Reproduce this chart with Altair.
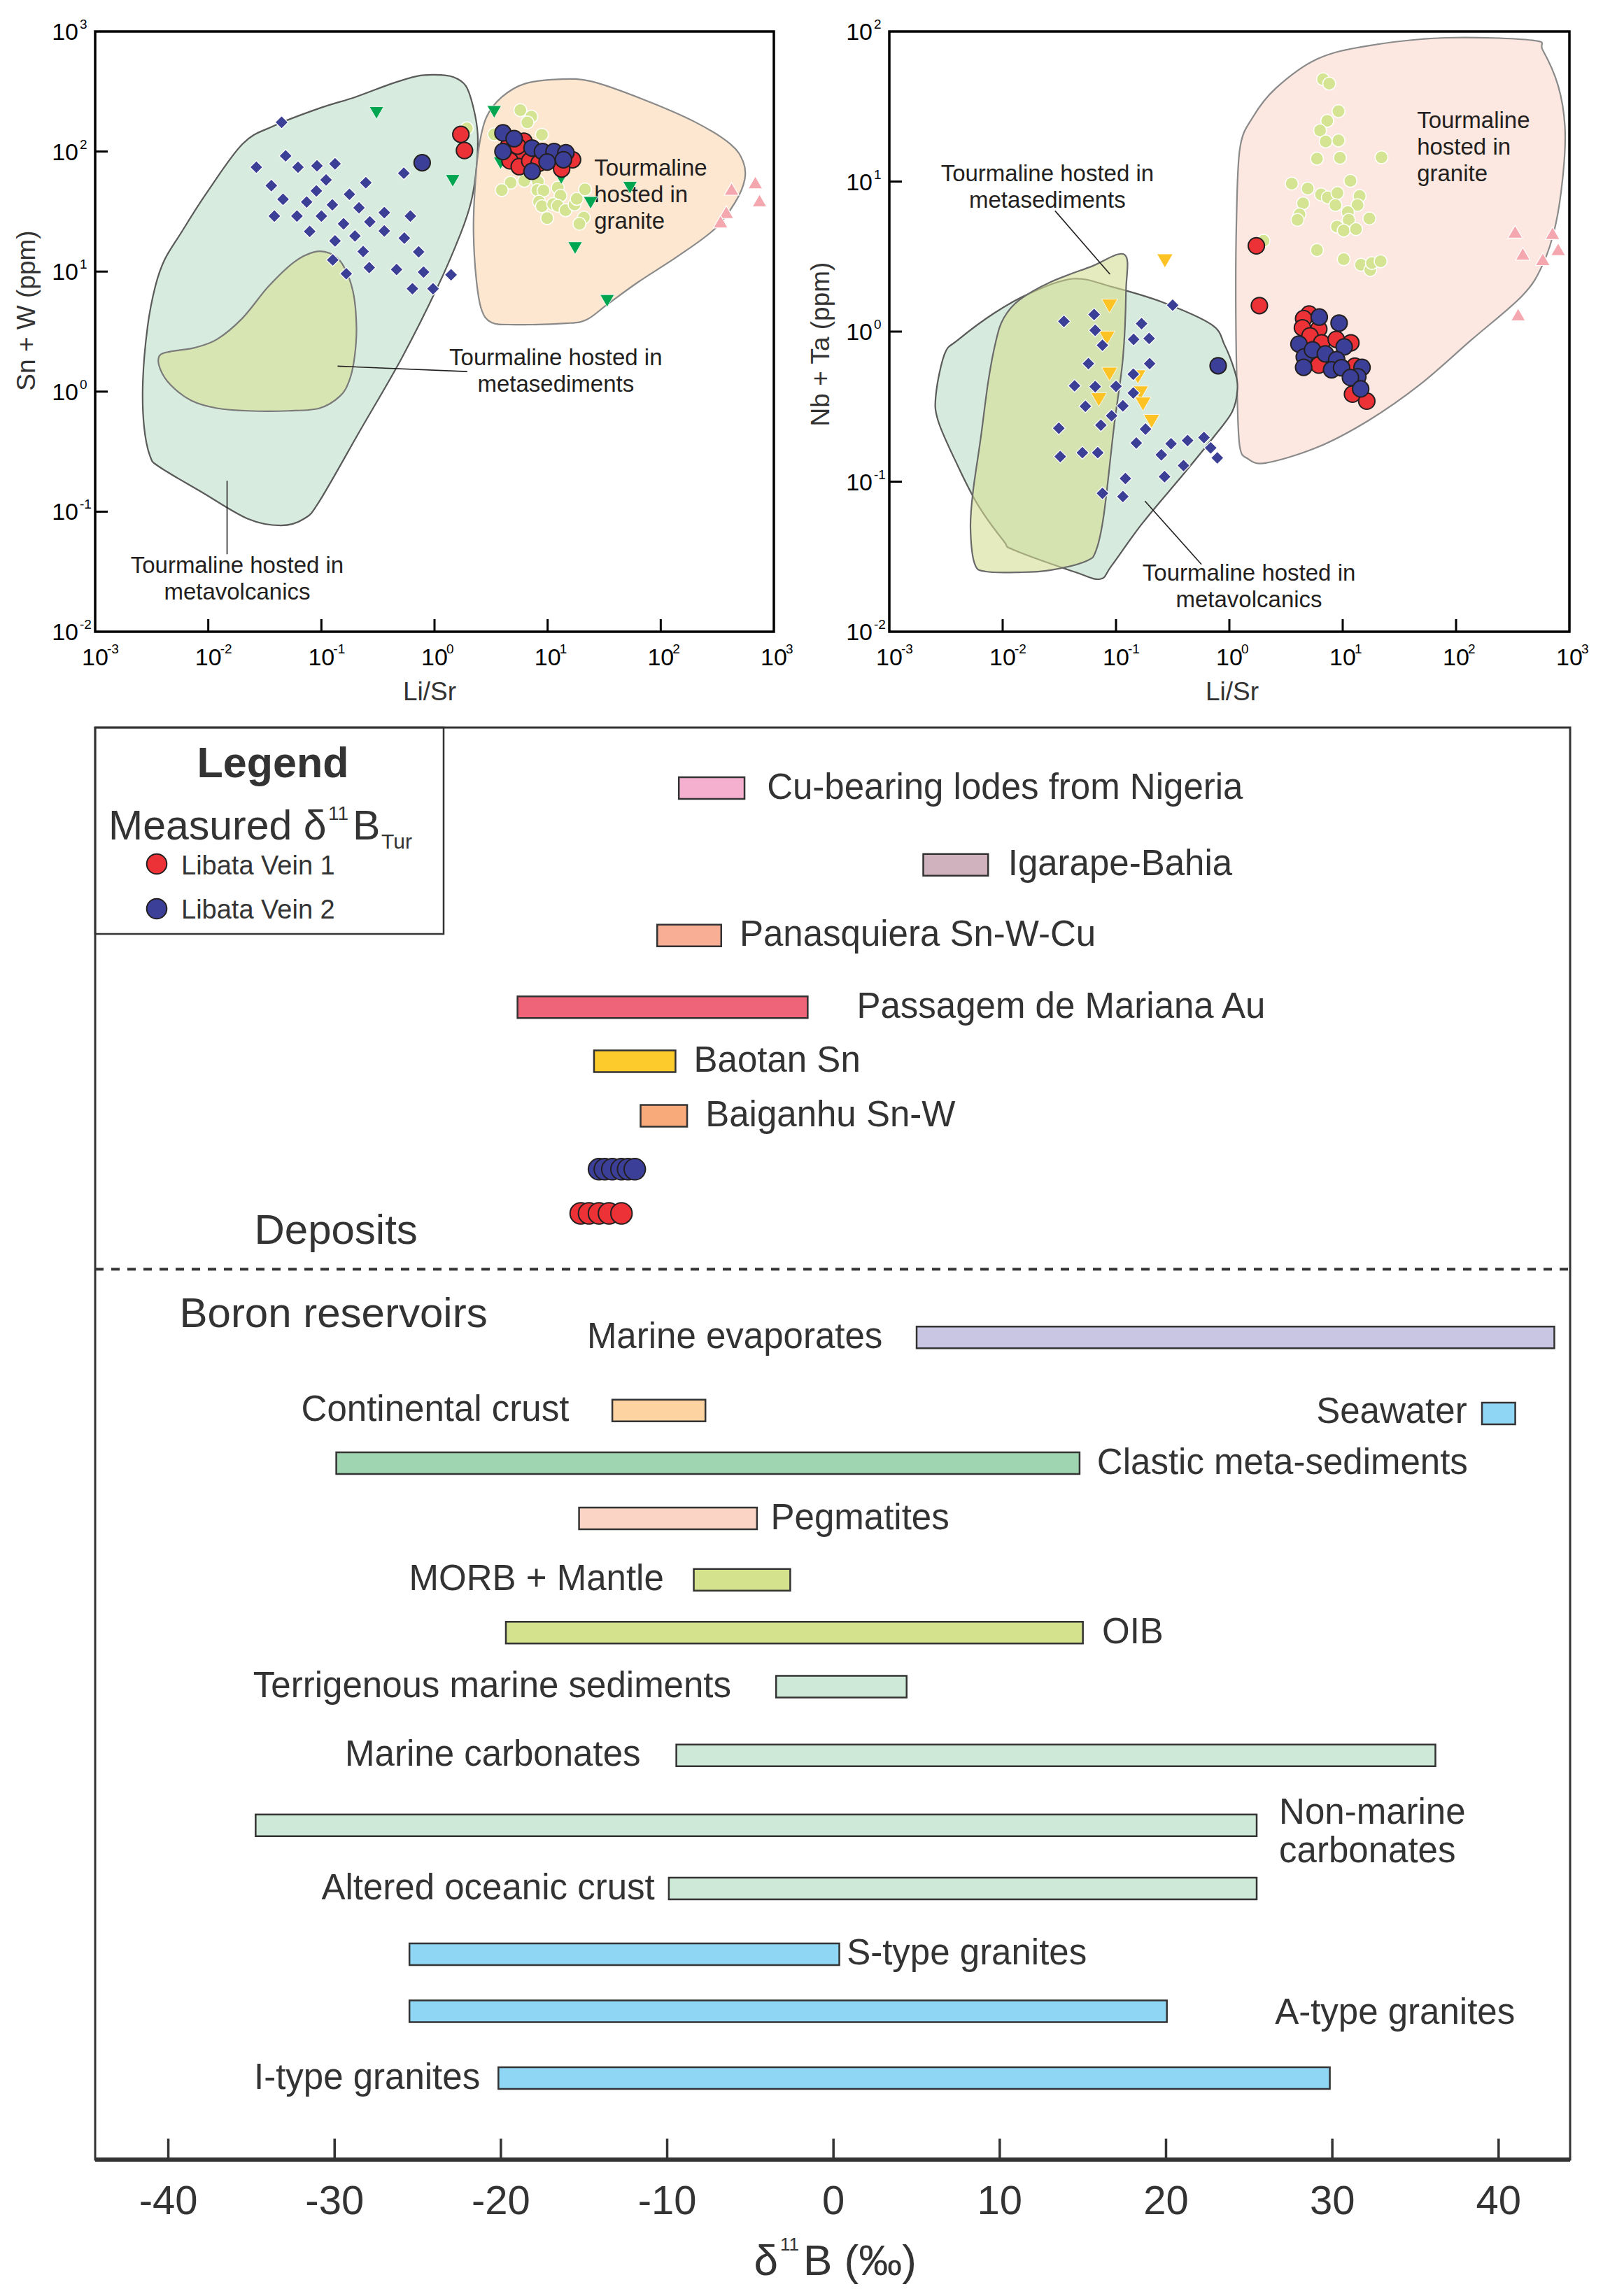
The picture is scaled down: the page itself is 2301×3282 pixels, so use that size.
import altair as alt
import pandas as pd

FONT = "Liberation Sans"
INK = "#231f20"
DARK = "#333333"

# ================= (a) Sn+W vs Li/Sr =================
a_volc_lisr = [0.0445, 0.0266, 0.0483, 0.0621, 0.0914, 0.132, 0.0361, 0.110, 0.247, 0.535,
               0.0458, 0.0903, 0.177, 0.0384, 0.0608, 0.0741, 0.100, 0.125, 0.215, 0.360,
               0.612, 0.0788, 0.157, 0.268, 0.360, 0.132, 0.198, 0.541, 0.234, 0.724,
               0.126, 0.166, 0.265, 0.462, 0.80, 1.40, 0.638, 0.97]
a_volc_snw = [175, 74, 92, 74, 76, 79, 52, 58, 55, 66, 40, 47, 44, 29, 29, 38, 29, 36, 34, 31,
              29, 21.6, 25, 26, 21.8, 18, 19.8, 19, 14.7, 14.6, 12.5, 9.6, 10.8, 10.4, 9.9, 9.4, 7.2, 7.2]
a_tri_lisr = [0.307, 3.37, 1.45, 53.5, 24, 17.5, 33.6, 3.84, 13.2]
a_tri_snw = [210, 214, 57, 50, 37.4, 15.7, 5.7, 80, 60]
a_gra_lisr = [1.93, 5.74, 7.18, 6.62, 8.9, 3.37, 4.71, 3.93, 6.22, 8.2, 8.1, 9.2, 12.3, 13.0,
              8.4, 8.9, 11.2, 12.3, 14.4, 17.3, 18.1, 21.4, 9.9, 20.9, 19.1]
a_gra_snw = [156, 221, 195, 175, 138, 139, 55, 47.7, 57, 56, 47.7, 47.3, 50, 42.8,
             38.2, 35, 36.5, 35.3, 32.4, 36.2, 40.3, 48.4, 27.9, 28.2, 25]
a_pink_lisr = [423, 686, 747, 380, 338]
a_pink_snw = [48.9, 55.2, 39.1, 31.3, 26.1]
a_v1_lisr = [1.71, 1.84, 6.17, 4.53, 5.74, 4.65, 5.61, 6.95, 8.4, 16.6, 13.3, 5.43]
a_v1_snw = [139, 102, 122, 112, 95.7, 83.6, 74.8, 83.6, 80, 85.5, 71.5, 111]
a_v2_lisr = [0.778, 4.03, 5.06, 4.03, 7.28, 9.0, 11.4, 14.5, 9.9, 7.28, 13.8]
a_v2_snw = [80.7, 143, 128, 100, 107, 100, 100, 97.7, 81.8, 68.4, 85.5]

# field outlines, log10 exponents (Li/Sr, Sn+W)
a_fvolc_lx = [0.005, 0.164, 0.277, 0.345, 0.382, 0.368, 0.323, 0.232, 0.028, -0.290, -0.653, -1.016,
              -1.153, -1.357, -1.652, -2.060, -2.424, -2.514, -2.569, -2.578, -2.537, -2.469, -2.387,
              -2.242, -2.015, -1.697, -1.425, -1.016, -0.699, -0.381, -0.154]
a_fvolc_ly = [2.639, 2.621, 2.546, 2.361, 2.138, 1.840, 1.580, 1.320, 0.874, 0.279, -0.316, -0.911,
              -1.059, -1.115, -1.059, -0.836, -0.632, -0.539, -0.279, 0.093, 0.539, 0.874, 1.097,
              1.320, 1.654, 2.063, 2.212, 2.361, 2.454, 2.565, 2.628]
a_fsed_lx = [-1.062, -0.926, -0.812, -0.721, -0.690, -0.708, -0.753, -0.835, -1.016, -1.289, -1.652,
             -1.924, -2.151, -2.333, -2.424, -2.433, -2.333, -2.128, -1.924, -1.697, -1.470, -1.243]
a_fsed_ly = [1.164, 1.152, 1.059, 0.836, 0.539, 0.279, 0.093, -0.037, -0.138, -0.160, -0.160,
             -0.138, -0.074, 0.056, 0.186, 0.297, 0.335, 0.364, 0.435, 0.613, 0.874, 1.078]
a_fgra_lx = [1.094, 1.390, 1.843, 2.297, 2.615, 2.729, 2.742, 2.660, 2.479, 2.161, 1.798, 1.526,
             1.344, 1.163, 0.709, 0.504, 0.414, 0.368, 0.345, 0.355, 0.391, 0.459, 0.595, 0.799]
a_fgra_ly = [2.602, 2.584, 2.435, 2.249, 2.063, 1.914, 1.766, 1.580, 1.357, 1.134, 0.911, 0.725,
             0.599, 0.569, 0.558, 0.576, 0.688, 0.948, 1.320, 1.654, 2.026, 2.286, 2.454, 2.565]

# ================= (b) Nb+Ta vs Li/Sr =================
b_volc_lisr = [0.0347, 0.0641, 0.0655, 0.0759, 0.168, 0.143, 0.196, 0.316, 0.0571, 0.198, 0.0431,
               0.0655, 0.100, 0.142, 0.0537, 0.115, 0.142, 0.0914, 0.0313, 0.0735, 0.182, 0.0322,
               0.0505, 0.069, 0.151, 0.306, 0.428, 0.597, 0.684, 0.783, 0.251, 0.268, 0.394, 0.121,
               0.0759, 0.115]
b_volc_nbta = [1.17, 1.30, 1.02, 0.811, 1.13, 0.887, 0.90, 1.50, 0.612, 0.612, 0.435, 0.430, 0.432,
               0.520, 0.318, 0.320, 0.390, 0.275, 0.227, 0.238, 0.224, 0.147, 0.156, 0.156, 0.181,
               0.179, 0.188, 0.197, 0.168, 0.144, 0.151, 0.108, 0.128, 0.105, 0.0836, 0.0796]
b_tri_lisr = [0.270, 0.0877, 0.0832, 0.0877, 0.156, 0.164, 0.0705, 0.173, 0.206]
b_tri_nbta = [2.96, 1.48, 0.906, 0.520, 0.499, 0.390, 0.352, 0.329, 0.252]
b_gra_lisr = [6.71, 7.60, 9.18, 7.30, 6.31, 7.08, 9.18, 5.93, 9.46, 22.0, 3.55, 4.91, 11.7, 6.44,
              7.38, 8.99, 14.1, 4.47, 8.63, 13.5, 4.16, 3.99, 11.1, 11.3, 17.2, 8.9, 10.2, 13.1,
              5.93, 10.2, 14.5, 17.5, 18.1, 21.6, 2.0]
b_gra_nbta = [48.1, 44.9, 29.4, 25.4, 21.9, 18.5, 18.8, 14.2, 14.4, 14.5, 9.68, 8.98, 10.1, 8.2,
              7.83, 8.38, 8.0, 7.16, 6.97, 6.97, 6.04, 5.56, 6.25, 5.56, 5.68, 5.01, 4.72, 4.82,
              3.49, 3.04, 2.79, 2.57, 2.86, 2.94, 4.03]
b_pink_lisr = [332, 710, 388, 796, 582, 353]
b_pink_nbta = [4.63, 4.53, 3.30, 3.54, 3.04, 1.30]
b_v1_lisr = [1.73, 1.84, 5.05, 4.52, 4.41, 6.15, 5.14, 6.52, 8.77, 11.8, 6.15, 12.8, 12.2, 16.3]
b_v1_nbta = [3.73, 1.49, 1.31, 1.22, 1.06, 1.04, 0.937, 0.842, 0.888, 0.842, 0.598, 0.588, 0.383, 0.344]
b_v2_lisr = [0.796, 6.21, 9.29, 4.11, 10.3, 4.58, 5.42, 7.03, 4.52, 8.85, 7.98, 9.77, 14.8, 13.6, 11.7, 14.4]
b_v2_nbta = [0.592, 1.25, 1.14, 0.826, 0.791, 0.679, 0.756, 0.711, 0.578, 0.650, 0.557, 0.574,
             0.577, 0.500, 0.494, 0.415]

b_fsed_lx = [-0.926, -0.912, -0.939, -1.016, -1.107, -1.175, -1.265, -1.582, -1.854, -2.149, -2.248,
             -2.284, -2.262, -2.194, -2.126, -2.058, -1.990, -1.854, -1.582, -1.220]
b_fsed_ly = [0.513, 0.269, -0.177, -0.623, -1.218, -1.456, -1.530, -1.590, -1.604, -1.599, -1.545,
             -1.307, -1.069, -0.712, -0.326, -0.058, 0.091, 0.210, 0.329, 0.433]
b_fvolc_lx = [-1.379, -1.039, -0.586, -0.156, -0.043, 0.048, 0.071, 0.025, -0.133, -0.405, -0.767,
              -1.039, -1.139, -1.356, -1.899, -1.990, -2.216, -2.398, -2.570, -2.588, -2.511, -2.398,
              -2.081, -1.764]
b_fvolc_ly = [0.352, 0.299, 0.195, 0.046, -0.088, -0.266, -0.385, -0.534, -0.697, -0.950, -1.277,
              -1.560, -1.649, -1.604, -1.456, -1.396, -1.158, -0.891, -0.593, -0.415, -0.147, -0.058,
              0.120, 0.254]
b_fgra_lx = [0.410, 0.773, 1.226, 1.905, 2.675, 2.765, 2.901, 2.960, 2.947, 2.879, 2.765, 2.584,
             2.131, 1.678, 1.226, 0.773, 0.320, 0.161, 0.093, 0.071, 0.057, 0.062, 0.093, 0.207]
b_fgra_ly = [1.622, 1.816, 1.905, 1.958, 1.941, 1.875, 1.637, 1.370, 1.072, 0.715, 0.448, 0.239,
             -0.058, -0.355, -0.593, -0.772, -0.876, -0.846, -0.772, -0.474, 0.120, 0.715, 1.221, 1.429]

exps_x = [-3, -2, -1, 0, 1, 2, 3]
a_exps_y = [-2, -1, 0, 1, 2, 3]
b_exps_y = [-2, -1, 0, 1, 2]

# ================= (c) d11B ranges =================
dep_names = ["Cu-bearing lodes from Nigeria", "Igarape-Bahia", "Panasquiera Sn-W-Cu",
             "Passagem de Mariana Au", "Baotan Sn", "Baiganhu Sn-W"]
dep_lo = [-9.3, 5.4, -10.6, -19.0, -14.4, -11.6]
dep_hi = [-5.35, 9.3, -6.75, -1.55, -9.5, -8.8]
dep_lane = [0.93, 2.18, 3.33, 4.5, 5.38, 6.27]
dep_label_at = [-4.0, 10.5, -5.65, 1.4, -8.4, -7.7]
dep_colors = ["#f5b0cf", "#d0b2bf", "#f8ad95", "#ef6479", "#fecb2d", "#f9aa7a"]

res_names = ["Marine evaporates", "Continental crust", "Seawater", "Clastic meta-sediments",
             "Pegmatites", "MORB + Mantle", "OIB", "Terrigenous marine sediments",
             "Marine carbonates", "Non-marine\ncarbonates", "Altered oceanic crust",
             "S-type granites", "A-type granites", "I-type granites"]
res_lo = [5.0, -13.3, 39.0, -29.9, -15.3, -8.4, -19.7, -3.45, -9.45, -34.75, -9.9, -25.5, -25.5, -20.15]
res_hi = [43.35, -7.7, 41.0, 14.8, -4.6, -2.6, 15.0, 4.4, 36.2, 25.45, 25.45, 0.35, 20.05, 29.85]
res_lane = [9.88, 11.07, 11.12, 11.93, 12.83, 13.83, 14.69, 15.57, 16.69, 17.83, 18.86, 19.93, 20.86, 21.95]
res_label_lane = [9.88, 11.07, 11.1, 11.93, 12.83, 13.83, 14.69, 15.57, 16.69, 17.64, 18.86, 19.93, 20.9, 21.95]
res_label_at = [2.95, -15.9, 38.1, 15.85, -3.77, -10.2, 16.15, -6.15, -11.6, 26.8, -10.75, 0.8, 26.55, -21.25]
res_label_side = ["end", "end", "end", "start", "start", "end", "start", "end", "end", "start",
                  "end", "start", "start", "end"]
res_colors = ["#c8c6e3", "#fdd3a2", "#8fd6f5", "#a0d5b1", "#fbd4c5", "#d5e28d", "#d5e28d", "#cee9d7",
              "#cee9d7", "#cee9d7", "#cee9d7", "#8fd6f5", "#8fd6f5", "#8fd6f5"]

vein1_d11b = [-15.2, -14.7, -14.1, -13.5, -12.75]
vein2_d11b = [-14.1, -13.75, -13.3, -12.75, -12.35, -11.95]
vein1_lane, vein2_lane = 7.86, 7.14
section_names = ["Deposits", "Boron reservoirs"]
section_at = [-34.83, -39.33]
section_lane = [8.15, 9.51]
separator_lane = 8.77
c_ticks = [-40, -30, -20, -10, 0, 10, 20, 30, 40]

# ================= sizes =================
WA, HA = 970, 858
WB, HB = 972, 858
WC, HC = 2108, 2047

one = pd.DataFrame({"t": [""]})


def ptext(t, x, y, size, align="left", baseline="alphabetic", weight="normal", color=INK, angle=0):
    return alt.Chart(pd.DataFrame({"t": [t]})).mark_text(
        font=FONT, fontSize=size, align=align, baseline=baseline, fontWeight=weight,
        color=color, angle=angle).encode(x=alt.value(x), y=alt.value(y), text="t:N")


def pdot(x, y, size, fill):
    return alt.Chart(one).mark_circle(size=size, fill=fill, stroke=INK, strokeWidth=2,
                                      opacity=1).encode(x=alt.value(x), y=alt.value(y))


def guard(x1, y1, x2, y2):
    return alt.Chart(one).mark_rule(stroke="white", strokeOpacity=0, strokeWidth=1).encode(
        x=alt.value(x1), y=alt.value(y1), x2=alt.value(x2), y2=alt.value(y2))


def scatter_panel(W, H, ydom, yexps, fields, points, annos, leaders, ytitle, ytitle_y, xtitle_x, gl, gr):
    xs = alt.Scale(type="log", domain=[1e-3, 1e3], nice=False)
    ys = alt.Scale(type="log", domain=ydom, nice=False)

    def X(f):
        return alt.X(f, type="quantitative", scale=xs, axis=None)

    def Y(f):
        return alt.Y(f, type="quantitative", scale=ys, axis=None)

    layers = [guard(gl, -35, gr, 990)]
    for lx, ly, fill, stroke, op in fields:
        df = pd.DataFrame({"x": [10 ** v for v in lx], "y": [10 ** v for v in ly],
                           "i": list(range(len(lx)))})
        layers.append(alt.Chart(df).mark_line(
            interpolate="cardinal-closed", fill=fill, fillOpacity=op, stroke=stroke,
            strokeWidth=2.2).encode(x=X("x"), y=Y("y"), order="i:Q"))
    for (x1, y1, x2, y2) in leaders:
        df = pd.DataFrame({"x": [x1], "y": [y1], "x2": [x2], "y2": [y2]})
        layers.append(alt.Chart(df).mark_rule(color=INK, strokeWidth=1.6).encode(
            x=X("x"), y=Y("y"), x2="x2:Q", y2="y2:Q"))
    for (t, x, y, align) in annos:
        df = pd.DataFrame({"t": [t], "x": [x], "y": [y]})
        layers.append(alt.Chart(df).mark_text(
            font=FONT, fontSize=33, align=align, baseline="middle", color=INK,
            lineBreak="\n", lineHeight=38).encode(x=X("x"), y=Y("y"), text="t:N"))
    for (xv, yv, shape, size, fill, stroke, sw) in points:
        df = pd.DataFrame({"x": xv, "y": yv})
        layers.append(alt.Chart(df).mark_point(
            shape=shape, size=size, filled=True, fill=fill, stroke=stroke, strokeWidth=sw,
            opacity=1, fillOpacity=1, strokeOpacity=1).encode(x=X("x"), y=Y("y")))
    # inward ticks
    xt = pd.DataFrame({"v": [10.0 ** e for e in exps_x[1:-1]]})
    layers.append(alt.Chart(xt).mark_rule(color="black", strokeWidth=3).encode(
        x=X("v"), y=alt.value(H), y2=alt.value(H - 18)))
    yt = pd.DataFrame({"v": [10.0 ** e for e in yexps[1:-1]]})
    layers.append(alt.Chart(yt).mark_rule(color="black", strokeWidth=3).encode(
        y=Y("v"), x=alt.value(0), x2=alt.value(18)))
    # tick labels 10^n
    xl = pd.DataFrame({"v": [10.0 ** e for e in exps_x], "b": ["10"] * len(exps_x),
                       "e": [str(e) for e in exps_x]})
    layers.append(alt.Chart(xl).mark_text(font=FONT, fontSize=34, align="center", baseline="middle",
                                          color="black").encode(x=X("v"), y=alt.value(H + 38), text="b:N"))
    layers.append(alt.Chart(xl).mark_text(font=FONT, fontSize=19, align="left", baseline="middle",
                                          color="black", dx=17).encode(x=X("v"), y=alt.value(H + 25), text="e:N"))
    yl = pd.DataFrame({"v": [10.0 ** e for e in yexps], "b": ["10"] * len(yexps),
                       "e": [str(e) for e in yexps]})
    layers.append(alt.Chart(yl).mark_text(font=FONT, fontSize=34, align="right", baseline="middle",
                                          color="black", dy=2).encode(y=Y("v"), x=alt.value(-24), text="b:N"))
    layers.append(alt.Chart(yl).mark_text(font=FONT, fontSize=19, align="left", baseline="middle",
                                          color="black", dy=-10).encode(y=Y("v"), x=alt.value(-22), text="e:N"))
    layers.append(ptext("Li/Sr", xtitle_x, H + 87, 37, align="center", baseline="middle", color=DARK))
    layers.append(ptext(ytitle, -97, ytitle_y, 37, align="center", baseline="middle", color=DARK, angle=270))
    return alt.layer(*layers).properties(
        width=W, height=H, view=alt.ViewBackground(stroke="black", strokeWidth=3.5, fill="white"))


RED, BLUE, NAVY = "#ed3237", "#3b3f98", "#3c3f96"
panel_a = scatter_panel(
    WA, HA, [1e-2, 1e3], a_exps_y,
    fields=[(a_fvolc_lx, a_fvolc_ly, "#d7ecdf", "#5a5a5a", 1.0),
            (a_fsed_lx, a_fsed_ly, "#d6e5b1", "#7a7a7a", 1.0),
            (a_fgra_lx, a_fgra_ly, "#fde7d0", "#8a8a8a", 1.0)],
    points=[(a_gra_lisr, a_gra_snw, "circle", 340, "#d4e493", "white", 1.5),
            (a_tri_lisr, a_tri_snw, "triangle-down", 420, "#00a550", "white", 0.8),
            (a_volc_lisr, a_volc_snw, "diamond", 340, NAVY, "white", 1.2),
            (a_pink_lisr, a_pink_snw, "triangle-up", 440, "#f4a7ae", "white", 1.2),
            (a_v1_lisr, a_v1_snw, "circle", 540, RED, INK, 2),
            (a_v2_lisr, a_v2_snw, "circle", 540, BLUE, INK, 2)],
    annos=[("Tourmaline\nhosted in\ngranite", 25.8, 72.4, "left"),
           ("Tourmaline hosted in\nmetasediments", 11.8, 1.91, "center"),
           ("Tourmaline hosted in\nmetavolcanics", 0.018, 0.0355, "center")],
    leaders=[(0.139, 1.63, 1.95, 1.47), (0.01466, 0.181, 0.01466, 0.0442)],
    ytitle="Sn + W (ppm)", ytitle_y=399, xtitle_x=478, gl=-126, gr=WA + 30)

panel_b = scatter_panel(
    WB, HB, [1e-2, 1e2], b_exps_y,
    fields=[(b_fgra_lx, b_fgra_ly, "#fde8e1", "#8a8a8a", 1.0),
            (b_fvolc_lx, b_fvolc_ly, "#d6ebdd", "#5a5a5a", 1.0),
            (b_fsed_lx, b_fsed_ly, "#d3dd94", "#6a6a6a", 0.6)],
    points=[(b_gra_lisr, b_gra_nbta, "circle", 340, "#d4e493", "white", 1.5),
            (b_tri_lisr, b_tri_nbta, "triangle-down", 520, "#fdc223", "white", 0.8),
            (b_volc_lisr, b_volc_nbta, "diamond", 340, NAVY, "white", 1.2),
            (b_pink_lisr, b_pink_nbta, "triangle-up", 440, "#f4a7ae", "white", 1.2),
            (b_v1_lisr, b_v1_nbta, "circle", 540, RED, INK, 2),
            (b_v2_lisr, b_v2_nbta, "circle", 540, BLUE, INK, 2)],
    annos=[("Tourmaline\nhosted in\ngranite", 45.2, 25.4, "left"),
           ("Tourmaline hosted in\nmetasediments", 0.0248, 11.2, "center"),
           ("Tourmaline hosted in\nmetavolcanics", 1.49, 0.0244, "center")],
    leaders=[(0.0290, 6.38, 0.0885, 2.41), (0.180, 0.0743, 0.567, 0.0281)],
    ytitle="Nb + Ta (ppm)", ytitle_y=447, xtitle_x=490, gl=-126, gr=WB + 30)

# ================= bottom panel =================
xs_c = alt.Scale(domain=[-44.4, 44.3], nice=False, zero=False)
ys_c = alt.Scale(domain=[0, 23.22], nice=False, zero=False, reverse=True)


def XC(f):
    return alt.X(f, type="quantitative", scale=xs_c, axis=None)


def YC(f):
    return alt.Y(f, type="quantitative", scale=ys_c, axis=None)


bars = pd.DataFrame({
    "name": dep_names + res_names,
    "lo": dep_lo + res_lo,
    "hi": dep_hi + res_hi,
    "lane": dep_lane + res_lane,
    "ll": dep_lane + res_label_lane,
    "c": dep_colors + res_colors,
    "at": dep_label_at + res_label_at,
    "side": ["start"] * len(dep_names) + res_label_side,
})
veins = pd.DataFrame({
    "d": vein1_d11b + vein2_d11b,
    "lane": [vein1_lane] * len(vein1_d11b) + [vein2_lane] * len(vein2_d11b),
    "c": [RED] * len(vein1_d11b) + [BLUE] * len(vein2_d11b),
})
sections = pd.DataFrame({"t": section_names, "x": section_at, "lane": section_lane})
sep = pd.DataFrame({"lane": [separator_lane]})
ct = pd.DataFrame({"v": c_ticks, "t": [str(v) for v in c_ticks]})

c_layers = [
    guard(-126, 0, WC + 10, HC + 175),
    alt.Chart(bars).mark_bar(size=31, stroke=DARK, strokeWidth=2.5).encode(
        x=XC("lo"), x2="hi:Q", y=YC("lane"), fill=alt.Fill("c:N", scale=None)),
    alt.Chart(bars).transform_filter("datum.side == 'start'").mark_text(
        font=FONT, fontSize=51, align="left", baseline="middle", color=DARK,
        lineBreak="\n", lineHeight=55).encode(x=XC("at"), y=YC("ll"), text="name:N"),
    alt.Chart(bars).transform_filter("datum.side == 'end'").mark_text(
        font=FONT, fontSize=51, align="right", baseline="middle", color=DARK,
        lineBreak="\n", lineHeight=55).encode(x=XC("at"), y=YC("ll"), text="name:N"),
    alt.Chart(veins).mark_circle(size=930, stroke=INK, strokeWidth=2, opacity=1).encode(
        x=XC("d"), y=YC("lane"), fill=alt.Fill("c:N", scale=None)),
    alt.Chart(sections).mark_text(font=FONT, fontSize=60, align="left", baseline="middle",
                                  color=DARK).encode(x=XC("x"), y=YC("lane"), text="t:N"),
    alt.Chart(sep).mark_rule(color=DARK, strokeWidth=4, strokeDash=[12, 11]).encode(
        y=YC("lane"), x=alt.value(0), x2=alt.value(WC)),
    # legend box
    alt.Chart(one).mark_rect(fill="white", fillOpacity=0, stroke=DARK, strokeWidth=2.5).encode(
        x=alt.value(0), x2=alt.value(498), y=alt.value(0), y2=alt.value(295)),
    ptext("Legend", 254, 71, 61, align="center", weight="bold", color=DARK),
    ptext("Measured δ", 19, 160, 59, color=DARK),
    ptext("11", 333, 132, 28, color=DARK),
    ptext("B", 368, 160, 59, color=DARK),
    ptext("Tur", 409, 173, 30, color=DARK),
    pdot(88, 195, 820, RED),
    pdot(88, 259, 820, BLUE),
    ptext("Libata Vein 1", 123, 210, 38, color=DARK),
    ptext("Libata Vein 2", 123, 273, 38, color=DARK),
    # x axis
    alt.Chart(one).mark_rule(color=DARK, strokeWidth=6).encode(
        x=alt.value(0), x2=alt.value(WC), y=alt.value(HC)),
    alt.Chart(ct).mark_rule(color=DARK, strokeWidth=3.5).encode(
        x=XC("v"), y=alt.value(HC - 30), y2=alt.value(HC)),
    alt.Chart(ct).mark_text(font=FONT, fontSize=58, align="center", baseline="middle",
                            color=DARK).encode(x=XC("v"), y=alt.value(HC + 61), text="t:N"),
    ptext("δ", 976, HC + 165, 62, align="right", color=DARK),
    ptext("11", 979, HC + 130, 26, color=DARK),
    ptext("B (‰)", 1012, HC + 165, 62, color=DARK),
]
panel_c = alt.layer(*c_layers).properties(
    width=WC, height=HC, view=alt.ViewBackground(stroke=DARK, strokeWidth=3, fill="white"))

top = alt.hconcat(panel_a, panel_b, spacing=165, bounds="flush")
chart = alt.vconcat(top, panel_c, spacing=0).properties(
    padding={"left": 0, "top": 0, "right": 0, "bottom": 0}, background="white"
).configure_view(stroke=None)

chart.save("out.html", embed_options={"renderer": "svg", "actions": False})
